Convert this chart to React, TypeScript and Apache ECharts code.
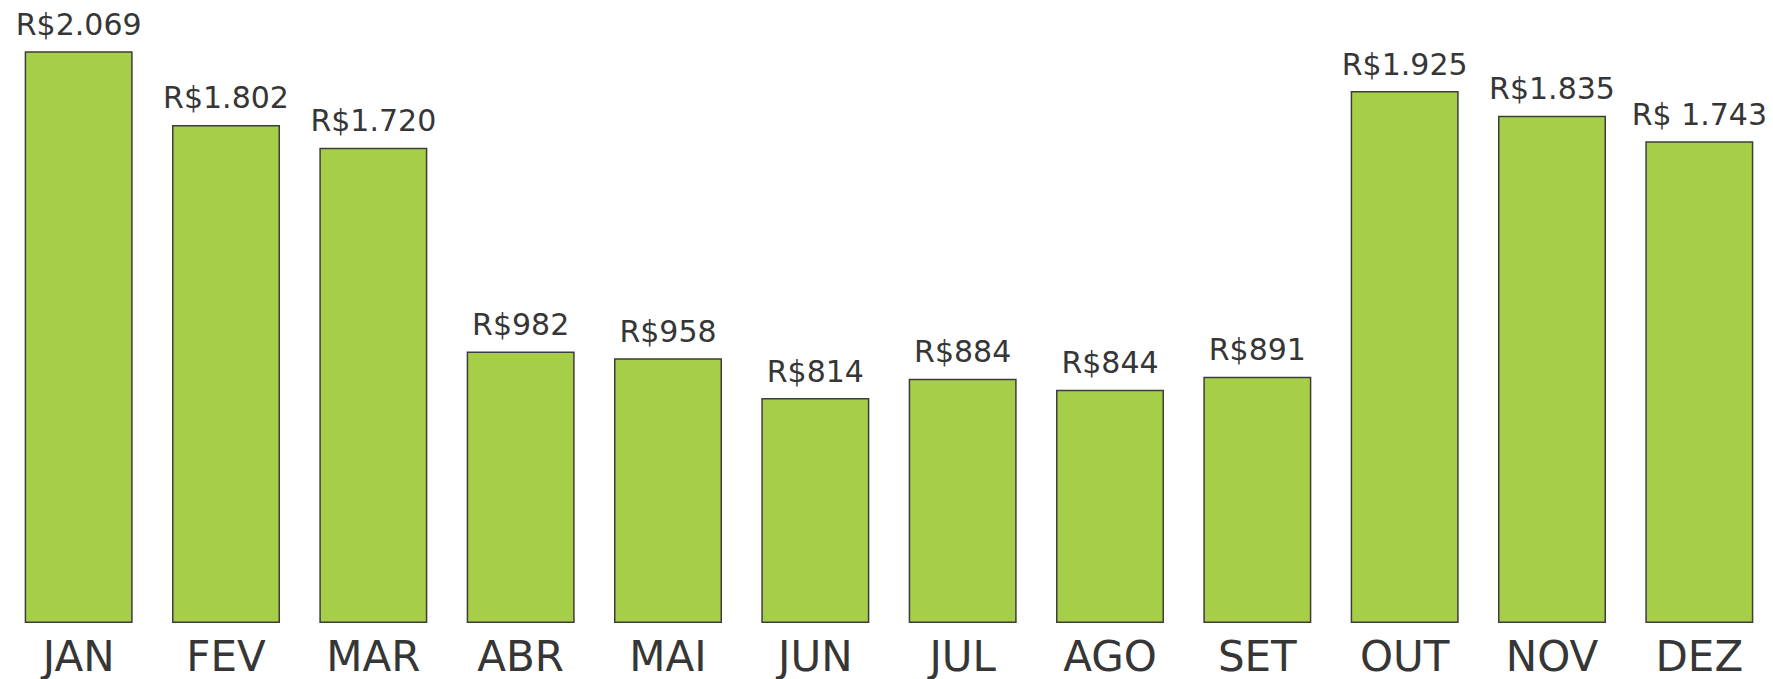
import React, { useEffect, useRef } from "react";
import * as echarts from "echarts";

const months = ["JAN", "FEV", "MAR", "ABR", "MAI", "JUN", "JUL", "AGO", "SET", "OUT", "NOV", "DEZ"];
const values = [2069, 1802, 1720, 982, 958, 814, 884, 844, 891, 1925, 1835, 1743];
const valueLabels = ["R$2.069", "R$1.802", "R$1.720", "R$982", "R$958", "R$814", "R$884", "R$844", "R$891", "R$1.925", "R$1.835", "R$ 1.743"];

export default function App() {
  const ref = useRef<HTMLDivElement>(null);
  useEffect(() => {
    const chart = echarts.init(ref.current!, null, { renderer: "svg" });
    chart.setOption({
      animation: false,
      backgroundColor: "#ffffff",
      grid: { left: 5, width: 1774, top: 15, bottom: 56, containLabel: false },
      xAxis: {
        type: "category",
        data: months,
        axisLine: { show: false },
        axisTick: { show: false },
        axisLabel: {
          color: "#363636",
          fontSize: 42,
          fontFamily: "DejaVu Sans",
          margin: 12,
        },
      },
      yAxis: {
        type: "value",
        min: 0,
        max: 2200,
        show: false,
        splitLine: { show: false },
      },
      series: [
        {
          type: "bar",
          data: values,
          barWidth: 108,
          itemStyle: { color: "#A6CE48", borderColor: "#3d3d3d", borderWidth: 1.5 },
          label: {
            show: true,
            position: "top",
            distance: 12,
            color: "#363636",
            fontSize: 30,
            fontFamily: "DejaVu Sans",
            formatter: (p: any) => valueLabels[p.dataIndex],
          },
        },
      ],
    });
    return () => chart.dispose();
  }, []);
  return (
    <div
      ref={ref}
      style={{ position: "absolute", left: 0, top: 0, width: 1773, height: 679 }}
    />
  );
}
